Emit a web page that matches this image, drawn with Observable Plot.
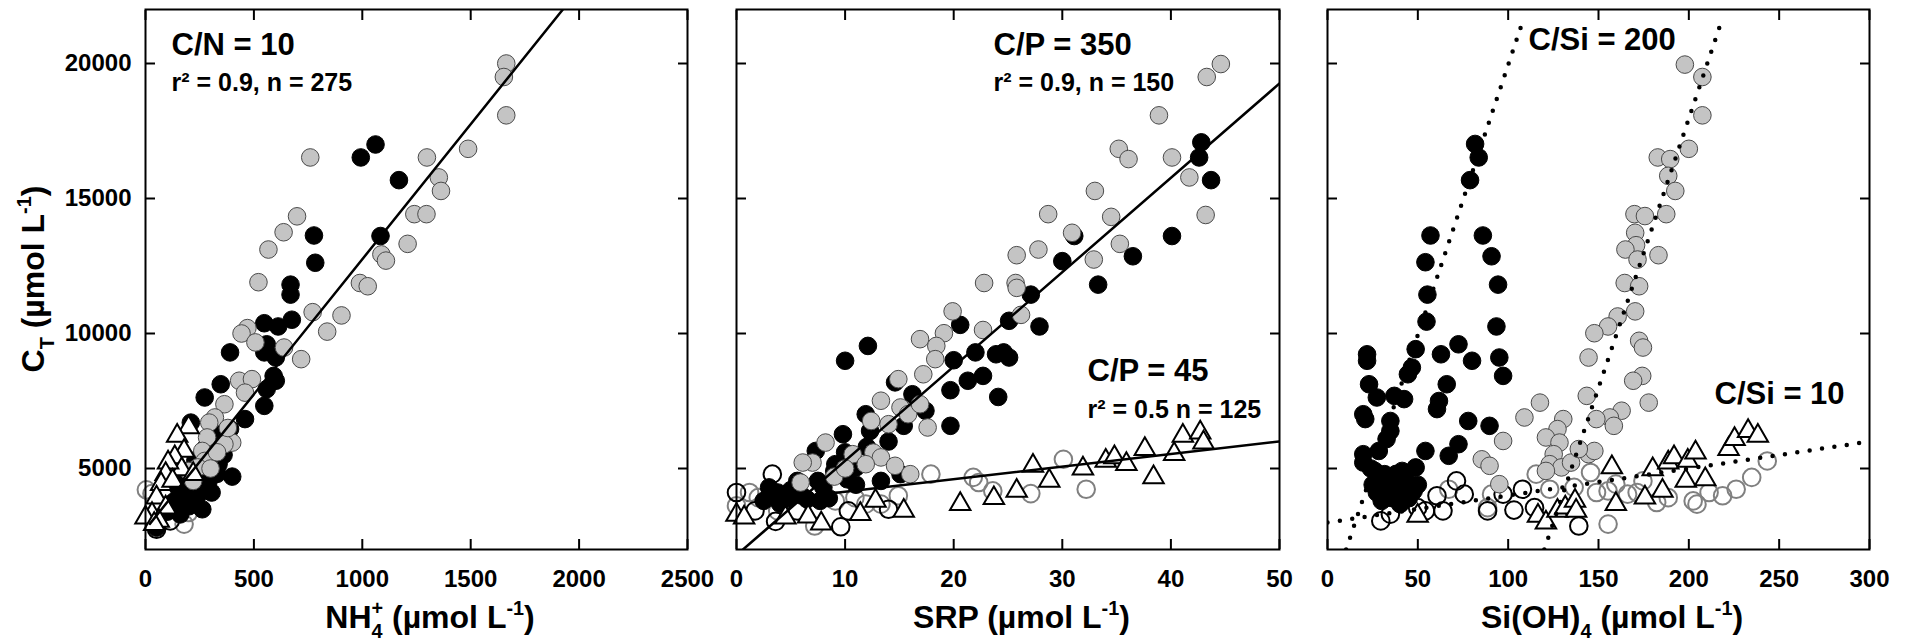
<!DOCTYPE html>
<html><head><meta charset="utf-8">
<script src="https://cdn.jsdelivr.net/npm/d3@7"></script>
<script src="https://cdn.jsdelivr.net/npm/@observablehq/plot@0.6"></script>
<style>
body{margin:0;background:#fff;}
#row{display:flex;width:1910px;height:638px;}
#row svg{overflow:visible;display:block;background:transparent}
</style></head><body><div id="row"></div>
<script>
// ---------- axes ----------
const yDomain = [2000, 22000];
const yTicks = [5000, 10000, 15000, 20000];
const nh4Domain = [0, 2500], nh4Ticks = [0, 500, 1000, 1500, 2000, 2500];
const srpDomain = [0, 50], srpTicks = [0, 10, 20, 30, 40, 50];
const siDomain = [0, 300], siTicks = [0, 50, 100, 150, 200, 250, 300];

// ---------- panel 1 : NH4+ vs CT ----------
const nh4Gray = [[1664,20000],[1653,19500],[1664,18080],[1488,16840],[1298,16520],[1353,15780],[1363,15280],[1240,14420],[1296,14420],[1209,13320],[1088,12930],[1109,12700],[989,11870],[1025,11750],[904,10670],[771,10790],[760,16520],[699,14340],[637,13750],[567,13110],[521,11900],[838,10070],[470,10200],[443,10000],[507,9670],[718,9050],[639,9480],[432,8250],[491,8310],[459,7810],[364,7380],[320,6890],[294,6700],[400,5960],[364,5900],[284,6150],[262,5650],[273,5280],[241,5040],[199,4910],[220,4540],[330,5600],[380,6500],[300,5000]];
const nh4Black = [[1061,17000],[993,16520],[1169,15680],[777,13630],[783,12620],[1084,13610],[669,11810],[669,11440],[675,10510],[548,10380],[612,10260],[559,9600],[548,9300],[601,9110],[390,9300],[591,8430],[601,8250],[559,7940],[548,7320],[347,8120],[273,7630],[459,6830],[209,6700],[390,6460],[337,5160],[305,4110],[262,3490],[220,4420],[135,3800],[178,3920],[51,2810],[150,4300],[240,4000],[290,4500],[330,4800],[250,5200],[200,3600],[100,3400],[180,4500],[230,5300],[280,5800],[320,6300],[360,5500],[400,4700],[120,3700],[160,3300]];
const nh4Tri = [[199,6520],[146,6210],[178,5650],[135,5410],[167,4970],[104,5220],[93,4790],[72,4420],[220,4790],[51,3920],[93,3550],[30,3310],[0,3180],[61,3060],[40,2940],[125,4540]];
const nh4OpenGray = [[4,4210],[30,4070],[178,2940],[199,3370]];
const nh4OpenBlack = [[51,2750],[114,3060]];
const cnLine = [[20,2950],[1925,22000]];

// ---------- panel 2 : SRP vs CT ----------
const srpGray = [[44.6,19980],[43.3,19500],[38.9,18080],[35.2,16840],[36.1,16460],[40.1,16520],[41.7,15780],[33.0,15280],[43.2,14390],[28.7,14420],[34.5,14320],[30.9,13730],[35.3,13320],[32.9,12740],[27.8,13110],[25.8,12900],[22.8,11870],[25.7,11870],[25.8,11690],[19.9,10820],[26.2,10690],[22.7,10130],[19.1,10010],[16.9,9790],[18.4,9540],[18.3,9050],[17.2,8490],[14.9,8310],[13.3,7510],[15.1,7260],[15.8,7010],[16.9,7380],[17.6,6520],[14.0,6640],[12.4,6760],[8.2,5960],[10.7,5530],[12.6,5590],[13.3,5410],[14.6,5100],[11.9,5160],[16.0,4790],[7.0,5220],[6.1,5220],[5.9,4480],[9.0,4700],[10.0,5000]];
const srpBlack = [[42.8,17080],[42.6,16520],[43.7,15680],[40.1,13610],[31.1,13610],[30.0,12680],[36.5,12860],[33.3,11810],[27.1,11440],[25.1,10470],[20.6,10320],[27.9,10260],[12.1,9540],[10.0,8990],[24.6,9300],[25.1,9110],[23.9,9230],[22.0,9300],[20.0,9010],[21.3,8250],[22.7,8430],[24.1,7650],[19.7,7900],[19.7,6580],[14.6,8190],[16.2,7750],[17.4,7140],[15.4,6580],[11.9,7010],[9.8,6270],[12.3,6390],[7.3,5650],[9.1,5160],[11.0,5040],[7.5,4540],[5.6,4540],[3.8,4110],[3.1,3990],[4.9,3920],[6.5,3860],[7.7,3800],[15.1,4790],[13.3,4540],[10.2,4600],[3,4300],[5,4200],[6,4000],[8,4300],[9,4900],[8.5,3900],[4,3700],[2.5,3800],[10,5600],[11,4400],[12,5800],[14,6000]];
const srpOpenGray = [[1.2,4110],[0,3620],[2.0,3920],[3.8,3430],[7.2,2870],[10.9,3920],[13.3,3680],[14.9,3990],[17.9,4790],[21.8,4670],[22.3,4480],[23.6,4170],[27.1,4070],[30.1,5340],[32.2,4230],[9.1,3800],[11.9,3680]];
const srpOpenBlack = [[0,4110],[3.3,4790],[1.7,3430],[3.6,3040],[9.6,2840],[10.3,3430],[14.0,3490],[5.6,3430]];
const srpTri = [[0,3280],[0.7,3180],[4.5,3180],[6.6,3220],[7.8,2960],[11.4,3310],[12.8,3800],[15.4,3430],[20.6,3680],[23.7,3900],[25.8,4170],[27.3,5100],[28.8,4540],[31.9,5000],[34.0,5280],[34.8,5410],[35.9,5160],[37.6,5720],[38.4,4670],[40.3,5530],[41.1,6210],[42.7,6330],[43.0,5960]];
const cp350Line = [[0.6,2000],[50,19260]];
const cp45Line = [[8,4050],[50,6000]];

// ---------- panel 3 : Si(OH)4 vs CT ----------
const siBlack = [[81.7,17020],[83.7,16520],[78.9,15680],[57.0,13630],[86.0,13630],[54.2,12640],[90.8,12860],[94.4,11810],[55.3,11440],[54.8,10440],[93.5,10260],[21.9,9230],[21.9,8990],[48.8,9420],[72.5,9600],[62.8,9230],[80.0,8990],[95.1,9110],[97.2,8430],[46.7,8740],[44.5,8490],[23.0,8120],[66.0,8120],[61.7,7500],[60.6,7200],[37.0,7690],[42.4,7570],[27.3,7630],[19.8,7010],[20.9,6830],[34.8,6760],[34.8,6390],[77.9,6760],[89.7,6580],[32.7,6090],[28.4,5650],[19.8,5530],[19.8,5220],[54.2,5650],[67.1,5470],[72.5,5900],[26.2,4910],[31.6,4790],[41.3,4910],[48.8,5040],[38.1,4540],[44.5,4420],[27.3,4110],[33.8,4110],[41.3,4050],[47.7,4170],[40.2,3680],[31.6,4540],[25,4400],[30,4300],[35,4500],[38,4800],[43,4700],[36,3900],[30,3800],[45,3900],[50,4400],[24,5000]];
const siGray = [[197.8,19960],[207.5,19500],[207.5,18080],[200.0,16840],[182.8,16520],[189.7,16460],[188.6,15840],[192.5,15280],[187.5,14420],[169.9,14420],[175.7,14350],[170.3,13730],[170.8,13270],[164.9,13110],[171.6,12740],[183.2,12900],[164.5,11870],[172.5,11750],[170.3,10820],[160.6,10630],[155.3,10260],[147.7,10010],[172.5,9730],[174.6,9480],[174.2,8430],[169.2,8250],[177.8,7440],[162.8,7140],[156.3,6890],[158.5,6580],[148.8,6830],[130.5,6830],[127.3,6460],[120.9,6150],[128.4,5960],[125.2,5530],[144.5,5530],[147.7,5650],[123.0,5160],[129.5,5040],[134.8,5220],[120.9,4910],[97.2,6020],[85.4,5340],[89.7,5100],[95.1,4420],[139.1,5720],[109.0,6890],[117.6,7440],[144.5,9110],[143.5,7690]];
const siOpenBlack = [[29.5,3060],[34.8,3310],[54.2,3430],[63.9,3430],[60.6,3990],[71.4,4540],[75.7,4050],[88.6,3430],[97.2,4050],[107.9,4230],[103.2,3460],[114.6,3550],[139.1,2870],[49.9,3550]];
const siOpenGray = [[67.1,4230],[90.8,4050],[88.6,3550],[115.5,4790],[123.0,4230],[136.5,4300],[145.6,4850],[148.9,4110],[155.3,2940],[159.6,4420],[166.1,4050],[171.4,4110],[174.6,4540],[182.2,3740],[188.6,3920],[202.4,3800],[204.5,3680],[211.2,4110],[218.7,3990],[226.2,4230],[234.8,4670],[243.4,5280],[155.3,4170]];
const siTri = [[49.9,3250],[116.5,3250],[120.9,3000],[127.3,3430],[131.6,3550],[137.0,3800],[137.6,3430],[159.6,3680],[157.4,5040],[175.7,3920],[180.0,4970],[185.4,4170],[188.6,5220],[191.8,5410],[198.3,4540],[199.4,5280],[203.7,5590],[209.1,4600],[222.0,5720],[225.3,6090],[232.8,6390],[238.2,6210]];
const si200LineA = [[10.3,2000],[109,21750]];
const si200LineB = [[120,2000],[219,21750]];
const si10Line = [[0,3000],[300,6000]];

// ---------- styles ----------
const FONT = "'Liberation Sans', Arial, Helvetica, sans-serif";
const S = {
  openGray:  {fill: "none", stroke: "#808080", strokeWidth: 2, r: 8.8},
  openBlack: {fill: "none", stroke: "#000", strokeWidth: 2, r: 8.8},
  black:     {fill: "#000", stroke: "#000", strokeWidth: 1, r: 8.8},
  gray:      {fill: "#c4c4c4", stroke: "#4a4a4a", strokeWidth: 1, r: 8.8},
  tri:       {symbol: "triangle", fill: "#fff", stroke: "#000", strokeWidth: 2, r: 7.6}
};
const solid = {stroke: "#000", strokeWidth: 2.5, clip: true};
const dotted = {stroke: "#000", strokeWidth: 4.5, strokeDasharray: "0 12.5", strokeLinecap: "round", clip: true};

function dots(data, st) { return Plot.dot(data, {x: d => d[0], y: d => d[1], ...st}); }
function line(data, st) { return Plot.line(data, {x: d => d[0], y: d => d[1], ...st}); }
function note(text, dx, dy, size) {
  return Plot.text([text], {frameAnchor: "top-left", dx, dy, textAnchor: "start", lineAnchor: "middle",
    fontSize: size, fontWeight: "bold", fill: "#000", text: d => d});
}

function panel({xDomain, xTicks, width, marginLeft, marginRight, showY, series, lines, notes}) {
  const blank = () => "";
  const fmt = d => String(d);
  const marks = [
    ...series.map(([d, st]) => dots(d, st)),
    ...lines,
    ...notes,
    Plot.frame({stroke: "#000", strokeWidth: 2}),
    Plot.axisX(xTicks, {anchor: "bottom", tickSize: -10, tickPadding: 30, strokeWidth: 2, label: null, tickFormat: fmt}),
    Plot.axisX(xTicks, {anchor: "top", tickSize: -10, strokeWidth: 2, tickFormat: blank, label: null}),
    Plot.axisY(yTicks, {anchor: "left", tickSize: -10, tickPadding: 24, strokeWidth: 2, label: null,
      tickFormat: showY ? fmt : blank}),
    Plot.axisY(yTicks, {anchor: "right", tickSize: -10, strokeWidth: 2, tickFormat: blank, label: null})
  ];
  return Plot.plot({
    width, height: 638, marginLeft, marginRight, marginTop: 9, marginBottom: 89,
    x: {domain: xDomain},
    y: {domain: yDomain},
    style: {fontFamily: FONT, fontSize: "24px", fontWeight: "bold", color: "#000", overflow: "visible"},
    marks
  });
}

// rich-text helper for axis titles (sub/superscripts)
function rich(svg, x, y, rotate, parts, fs) {
  const t = d3.select(svg).append("text")
    .attr("transform", `translate(${x},${y})` + (rotate ? ` rotate(${rotate})` : ""))
    .attr("text-anchor", "middle").attr("font-family", FONT).attr("font-weight", "bold")
    .attr("font-size", fs).attr("fill", "#000").style("white-space", "pre");
  let shift = 0;
  for (const p of parts) {
    const kind = p[1] || "n";
    const target = kind === "sub" ? 0.3 * fs : kind === "sup" ? -0.42 * fs : 0;
    const s = t.append("tspan").text(p[0]).attr("dy", target - shift);
    shift = target;
    if (kind !== "n") s.attr("font-size", 0.62 * fs);
    if (p[2]) s.attr("dx", p[2]);
  }
}

const row = document.getElementById("row");
const TS = 32;

const p1 = panel({
  xDomain: nh4Domain, xTicks: nh4Ticks, width: 711, marginLeft: 145, marginRight: 24, showY: true,
  series: [[nh4OpenGray, S.openGray], [nh4OpenBlack, S.openBlack], [nh4Black, S.black], [nh4Gray, S.gray], [nh4Tri, S.tri]],
  lines: [line(cnLine, solid)],
  notes: [note("C/N = 10", 26, 36, 31), note("r² = 0.9, n = 275", 26, 73, 25)]
});
row.appendChild(p1);
{
  const [a, b] = p1.scale("x").range;
  rich(p1, (a + b) / 2 + 14, 628, 0, [["NH"], ["4", "sub"], ["+", "sup", -11], [" (µmol L"], ["-1", "sup"], [")"]], TS);
  const [c, d] = p1.scale("y").range;
  rich(p1, 44, (c + d) / 2, -90, [["C"], ["T", "sub"], [" (µmol L"], ["-1", "sup"], [")"]], TS);
}

const p2 = panel({
  xDomain: srpDomain, xTicks: srpTicks, width: 592, marginLeft: 25, marginRight: 24, showY: false,
  series: [[srpOpenGray, S.openGray], [srpOpenBlack, S.openBlack], [srpBlack, S.black], [srpGray, S.gray], [srpTri, S.tri]],
  lines: [line(cp350Line, solid), line(cp45Line, solid)],
  notes: [note("C/P = 350", 257, 36, 31), note("r² = 0.9, n = 150", 257, 73, 25),
          note("C/P = 45", 351, 362, 31), note("r² = 0.5 n = 125", 351, 400, 25)]
});
row.appendChild(p2);
{
  const [a, b] = p2.scale("x").range;
  rich(p2, (a + b) / 2 + 14, 628, 0, [["SRP (µmol L"], ["-1", "sup"], [")"]], TS);
}

const p3 = panel({
  xDomain: siDomain, xTicks: siTicks, width: 607, marginLeft: 24, marginRight: 41, showY: false,
  series: [[siOpenGray, S.openGray], [siOpenBlack, S.openBlack], [siBlack, S.black], [siGray, S.gray], [siTri, S.tri]],
  lines: [line(si200LineA, dotted), line(si200LineB, dotted), line(si10Line, dotted)],
  notes: [note("C/Si = 200", 201, 31, 31), note("C/Si = 10", 387, 385, 31)]
});
row.appendChild(p3);
{
  const [a, b] = p3.scale("x").range;
  rich(p3, (a + b) / 2 + 14, 628, 0, [["Si(OH)"], ["4", "sub"], [" (µmol L"], ["-1", "sup"], [")"]], TS);
}
</script></body></html>
